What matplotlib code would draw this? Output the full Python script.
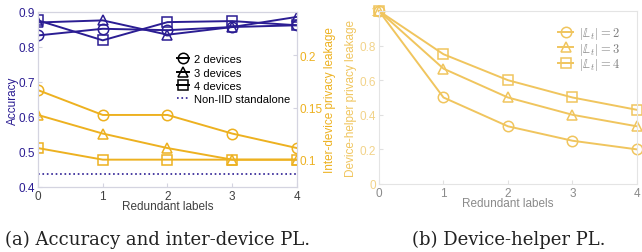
import matplotlib
matplotlib.use("Agg")
import matplotlib.pyplot as plt
from matplotlib.lines import Line2D

plt.rcParams['font.family'] = ['Liberation Sans', 'DejaVu Sans']
plt.rcParams['mathtext.fontset'] = 'cm'

# ---- data ----
redundant = [0, 1, 2, 3, 4]
acc_2dev = [0.833, 0.852, 0.848, 0.857, 0.862]
acc_3dev = [0.870, 0.876, 0.835, 0.857, 0.886]
acc_4dev = [0.876, 0.819, 0.871, 0.874, 0.862]
noniid_standalone = 0.438
pl_2dev = [1/6, 1/7, 1/7, 1/8, 1/9]
pl_3dev = [1/7, 1/8, 1/9, 1/10, 1/10]
pl_4dev = [1/9, 1/10, 1/10, 1/10, 1/10]
dh_L2 = [1.0, 1/2, 1/3, 1/4, 1/5]
dh_L3 = [1.0, 2/3, 1/2, 2/5, 1/3]
dh_L4 = [1.0, 3/4, 3/5, 1/2, 3/7]
series_labels = ['2 devices', '3 devices', '4 devices']
dh_labels = [r'$|\mathbb{L}_t|=2$', r'$|\mathbb{L}_t|=3$', r'$|\mathbb{L}_t|=4$']
markers = ['o', '^', 's']

PURPLE = '#2b1d93'
YELLOW = '#edb120'
YELLOW2 = '#f0c55e'
SPINE = '#d4d4e0'
FS = 8.5

fig = plt.figure(figsize=(6.42, 2.53), dpi=100)

# ---- left panel ----
ax = fig.add_axes([0.0592, 0.257, 0.4034, 0.6917])
for vals, m in zip([acc_2dev, acc_3dev, acc_4dev], markers):
    ax.plot(redundant, vals, color=PURPLE, marker=m, ms=7.5, mfc='none', mew=1.1, lw=1.4)
ax.axhline(noniid_standalone, color=PURPLE, ls=':', lw=1.2)
ax.set_xlim(0, 4)
ax.set_ylim(0.4, 0.9)
ax.set_yticks([0.4, 0.5, 0.6, 0.7, 0.8, 0.9])
ax.set_yticklabels(['0.4', '0.5', '0.6', '0.7', '0.8', '0.9'])
ax.set_xticks(redundant)
ax.tick_params(axis='y', colors=PURPLE, labelsize=FS, direction='in', length=3, pad=2)
ax.tick_params(axis='y', color=SPINE)
ax.tick_params(axis='x', labelcolor='#404040', labelsize=FS, direction='in', length=3, color=SPINE, pad=2)
ax.set_ylabel('Accuracy', color=PURPLE, fontsize=FS, labelpad=0)
ax.set_xlabel('Redundant labels', color='#404040', fontsize=FS, labelpad=-1)
for s in ax.spines.values():
    s.set_color(SPINE)
    s.set_linewidth(0.8)

ax2 = ax.twinx()
for vals, m in zip([pl_2dev, pl_3dev, pl_4dev], markers):
    ax2.plot(redundant, vals, color=YELLOW, marker=m, ms=7.5, mfc='none', mew=1.1, lw=1.4)
ax2.set_ylim(0.0738, 0.2416)
ax2.set_yticks([0.1, 0.15, 0.2])
ax2.set_yticklabels(['0.1', '0.15', '0.2'])
ax2.tick_params(axis='y', labelcolor=YELLOW, color=SPINE, labelsize=FS, direction='in', length=3, pad=2)
ax2.set_ylabel('Inter-device privacy leakage', color=YELLOW, fontsize=FS, labelpad=1)
for s in ax2.spines.values():
    s.set_color(SPINE)
    s.set_linewidth(0.8)

handles = [Line2D([], [], color='black', marker=m, ms=7.5, mfc='none', mew=1.1, lw=1.4) for m in markers]
handles.append(Line2D([], [], color=PURPLE, ls=':', lw=1.2))
ax2.legend(handles, series_labels + ['Non-IID standalone'], loc='upper right',
           bbox_to_anchor=(1.0, 0.797), frameon=False, fontsize=8,
           handlelength=1.1, handletextpad=0.45, labelspacing=0.3, borderaxespad=0.2)

# ---- right panel ----
bx = fig.add_axes([0.5903, 0.2688, 0.4019, 0.6838])
for vals, m, lab in zip([dh_L2, dh_L3, dh_L4], markers, dh_labels):
    bx.plot(redundant, vals, color=YELLOW2, marker=m, ms=7.5, mfc='none', mew=1.1, lw=1.4,
            label=lab, clip_on=False)
bx.set_xlim(0, 4)
bx.set_ylim(0, 1)
bx.set_xticks(redundant)
bx.set_yticks([0, 0.2, 0.4, 0.6, 0.8, 1.0])
bx.set_yticklabels(['0', '0.2', '0.4', '0.6', '0.8', '1'])
bx.tick_params(axis='y', labelcolor='#f2d38a', color='#e0e0e0', labelsize=FS, direction='in', length=3, pad=2)
bx.tick_params(axis='x', labelcolor='#8a8a8a', color='#e0e0e0', labelsize=FS, direction='in', length=3, pad=2)
bx.set_ylabel('Device-helper privacy leakage', color=YELLOW2, fontsize=FS, labelpad=2)
bx.set_xlabel('Redundant labels', color='#8a8a8a', fontsize=FS, labelpad=-1)
for s in bx.spines.values():
    s.set_color('#e4e4e4')
    s.set_linewidth(0.8)
leg = bx.legend(loc='upper right', bbox_to_anchor=(0.965, 0.96), frameon=False, fontsize=9,
                handlelength=1.2, handletextpad=0.5, labelspacing=-0.05, borderaxespad=0.2)
for t in leg.get_texts():
    t.set_color('#808080')

# ---- captions ----
fig.text(0.246, 0.033, '(a) Accuracy and inter-device PL.', ha='center', va='baseline',
         fontsize=13, family=['DejaVu Serif'], color='#222222')
fig.text(0.793, 0.033, '(b) Device-helper PL.', ha='center', va='baseline',
         fontsize=13, family=['DejaVu Serif'], color='#222222')

fig.savefig('out.png', dpi=100)
